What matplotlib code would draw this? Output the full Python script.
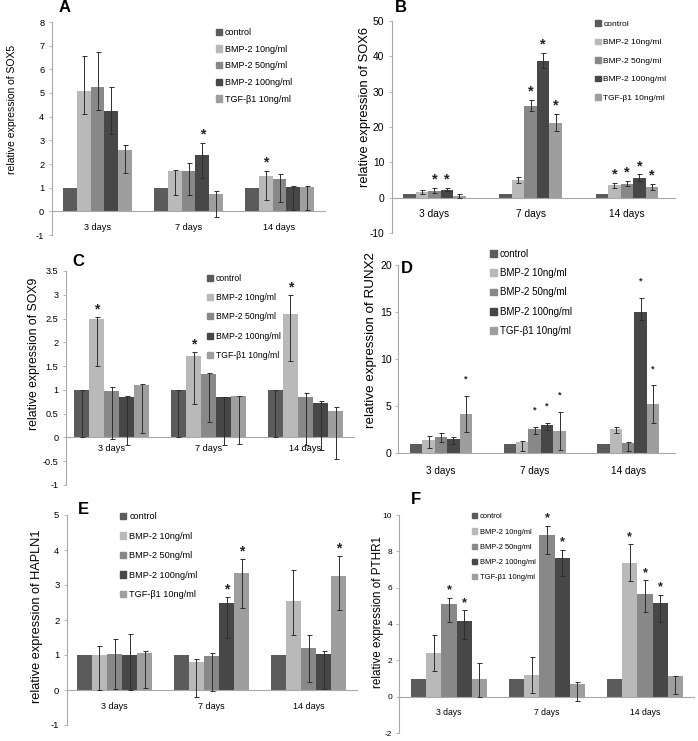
import numpy as np
from matplotlib import pyplot as plt
from matplotlib.patches import Patch

W, H = 698, 741

plt.rcParams['font.family'] = ['Liberation Sans', 'DejaVu Sans']

DAYS = ['3 days', '7 days', '14 days']
GROUPS = ['control', 'BMP-2 10ng/ml', 'BMP-2 50ng/ml', 'BMP-2 100ng/ml', 'TGF-\u03b21 10ng/ml']
COLORS = ['#5b5b5b', '#b9b9b9', '#888888', '#474747', '#9e9e9e']

# rows = groups, columns = days; low/high = ends of the error bars
SOX5_MEAN = [[1, 1, 1], [5.1, 1.7, 1.5], [5.27, 1.7, 1.35], [4.25, 2.4, 1.03], [2.6, 0.72, 1.02]]
SOX5_LOW = [[1, 1, 1], [4.1, 0.7, 0.5], [4.27, 0.7, 0.38], [3.28, 1.4, 0.05], [1.62, -0.25, 0.05]]
SOX5_HIGH = [[1, 1, 1], [6.58, 1.75, 1.7], [6.75, 2.05, 1.58], [5.27, 2.9, 1.07], [2.8, 0.88, 1.05]]
SOX5_STARS = [(1, 3), (2, 1)]

SOX6_MEAN = [[1, 1, 1], [1.6, 5.0, 3.5], [2.0, 26.0, 4.0], [2.3, 38.8, 5.7], [0.5, 21.2, 3.0]]
SOX6_LOW = [[1, 1, 1], [0.9, 4.1, 2.7], [1.3, 24.5, 3.2], [1.8, 36.8, 4.6], [0.0, 19.0, 2.3]]
SOX6_HIGH = [[1, 1, 1], [2.3, 5.8, 4.2], [2.7, 27.6, 4.8], [2.8, 41.0, 6.6], [1.0, 23.7, 3.8]]
SOX6_STARS = [(0, 2), (0, 3), (1, 2), (1, 3), (1, 4), (2, 1), (2, 2), (2, 3), (2, 4)]

SOX9_MEAN = [[1, 1, 1], [2.49, 1.71, 2.6], [0.97, 1.33, 0.84], [0.85, 0.84, 0.73], [1.1, 0.87, 0.55]]
SOX9_LOW = [[0, 0, 0], [1.5, 0.7, 1.6], [-0.03, 0.33, -0.16], [-0.15, -0.16, -0.27], [0.1, -0.13, -0.45]]
SOX9_HIGH = [[1, 1, 1], [2.54, 1.79, 3.0], [1.07, 1.35, 0.94], [0.87, 0.86, 0.76], [1.12, 0.88, 0.63]]
SOX9_STARS = [(0, 1), (1, 1), (2, 1)]

RUNX2_MEAN = [[1, 1, 1], [1.4, 1.2, 2.6], [1.7, 2.6, 1.1], [1.5, 3.0, 15.0], [4.1, 2.3, 5.2]]
RUNX2_LOW = [[1, 1, 1], [0.5, 0.2, 2.1], [1.2, 2.0, 0.2], [1.0, 2.4, 14.2], [2.2, 0.3, 3.2]]
RUNX2_HIGH = [[1, 1, 1], [1.8, 1.3, 2.8], [2.1, 2.8, 1.2], [1.7, 3.2, 16.5], [6.1, 4.4, 7.2]]
RUNX2_STARS = [(0, 4), (1, 2), (1, 3), (1, 4), (2, 3), (2, 4)]

HAPLN1_MEAN = [[1, 1, 1], [1.0, 0.79, 2.55], [1.03, 0.97, 1.2], [1.0, 2.5, 1.03], [1.05, 3.35, 3.27]]
HAPLN1_LOW = [[1, 1, 1], [0.0, -0.2, 1.57], [0.03, -0.03, 0.22], [0.0, 1.5, 0.03], [0.05, 2.35, 2.28]]
HAPLN1_HIGH = [[1, 1, 1], [1.25, 0.88, 3.43], [1.47, 1.05, 1.58], [1.6, 2.65, 1.12], [1.12, 3.75, 3.83]]
HAPLN1_STARS = [(1, 3), (1, 4), (2, 4)]

PTHR1_MEAN = [[1, 1, 1], [2.4, 1.17, 7.35], [5.1, 8.88, 5.67], [4.18, 7.62, 5.13], [1.0, 0.72, 1.12]]
PTHR1_LOW = [[1, 1, 1], [1.4, 0.2, 6.35], [4.1, 7.88, 4.68], [3.18, 6.62, 4.13], [0.0, -0.22, 0.13]]
PTHR1_HIGH = [[1, 1, 1], [3.4, 2.17, 8.38], [5.45, 9.4, 6.4], [4.75, 8.1, 5.62], [1.88, 0.8, 1.15]]
PTHR1_STARS = [(0, 2), (0, 3), (1, 2), (1, 3), (2, 1), (2, 2), (2, 3)]


def px_box(x0, x1, ytop, ybot):
    return [x0 / W, 1 - ybot / H, (x1 - x0) / W, (ybot - ytop) / H]


def fig_xy(x, y):
    return x / W, 1 - y / H


def draw_panel(fig, p):
    ax = fig.add_axes(px_box(*p['box']))
    mean, low, high = np.array(p['mean']), np.array(p['low']), np.array(p['high'])
    x = np.arange(len(DAYS))
    bw = p['bw']
    for i in range(len(GROUPS)):
        xs = x + (i - 2) * bw
        ax.bar(xs, mean[i], bw, color=COLORS[i], zorder=2)
        for j in range(len(DAYS)):
            if low[i, j] == high[i, j]:
                continue
            ax.errorbar(xs[j], mean[i, j], yerr=[[mean[i, j] - low[i, j]], [high[i, j] - mean[i, j]]],
                        fmt='none', ecolor='#2e2e2e', elinewidth=0.7, capsize=1.8, capthick=0.7, zorder=3)
    for j, i in p['stars']:
        ax.annotate('*', (x[j] + (i - 2) * bw, high[i, j]), xytext=(0, p['star_off']),
                    textcoords='offset points', ha='center', va='center',
                    fontsize=p['star_fs'], fontweight='bold', color='#222222')

    ax.set_xlim(*p['xlim'])
    ax.set_ylim(*p['ylim'])
    ax.set_yticks(p['yticks'])
    ax.set_yticklabels([('%g' % t) for t in p['yticks']])
    ax.set_xticks(x)
    ax.set_xticklabels(DAYS)
    for s in ['top', 'right']:
        ax.spines[s].set_visible(False)
    ax.spines['bottom'].set_position(('data', 0))
    for s in ['left', 'bottom']:
        ax.spines[s].set_color('#a8a8a8')
        ax.spines[s].set_linewidth(0.8)
    ax.tick_params(axis='x', length=0, pad=p['xpad'], labelsize=p['xfs'])
    ax.tick_params(axis='y', length=2.5, width=0.6, color='#a8a8a8', pad=p.get('ypad', 3), labelsize=p['yfs'])
    ax.patch.set_visible(False)

    handles = [Patch(color=c) for c in COLORS]
    lx, ly = fig_xy(*p['leg'])
    ax.legend(handles, GROUPS, loc='upper left', bbox_to_anchor=(lx, ly), bbox_transform=fig.transFigure,
              frameon=False, fontsize=p['lfs'], handlelength=0.7, handleheight=0.7, handletextpad=0.3,
              labelspacing=p['lsp'], borderpad=0, borderaxespad=0)

    tx, ty = fig_xy(*p['ylab_pos'])
    fig.text(tx, ty, 'relative expression of ' + p['gene'], rotation=90, ha='center', va='center',
             fontsize=p['ylab_fs'])
    lx, ly = fig_xy(*p['letter_pos'])
    fig.text(lx, ly, p['letter'], ha='left', va='center', fontsize=12, fontweight='bold')
    return ax


PANELS = [
    dict(letter='A', gene='SOX5', mean=SOX5_MEAN, low=SOX5_LOW, high=SOX5_HIGH, stars=SOX5_STARS,
         box=(52, 325, 22, 235), xlim=(-0.5, 2.5), bw=0.153, ylim=(-1, 8), yticks=range(-1, 9),
         xfs=6.6, yfs=6.7, xpad=8.5, star_off=6, star_fs=10, leg=(216, 28), lfs=6.5, lsp=0.85,
         ylab_pos=(12, 109), ylab_fs=7.5, letter_pos=(59, 8)),
    dict(letter='B', gene='SOX6', mean=SOX6_MEAN, low=SOX6_LOW, high=SOX6_HIGH, stars=SOX6_STARS,
         box=(392, 675, 21, 233), xlim=(-0.44, 2.5), bw=0.13, ylim=(-10, 50), yticks=range(-10, 51, 10),
         xfs=7.3, yfs=7.4, xpad=8.5, star_off=6, star_fs=10.5, leg=(595, 20), lfs=6.0, lsp=1.28,
         ylab_pos=(365, 107), ylab_fs=9.3, letter_pos=(395, 8)),
    dict(letter='C', gene='SOX9', mean=SOX9_MEAN, low=SOX9_LOW, high=SOX9_HIGH, stars=SOX9_STARS,
         box=(66, 354, 271, 485), xlim=(-0.47, 2.5), bw=0.155, ylim=(-1, 3.5), yticks=np.arange(-1, 3.51, 0.5),
         xfs=6.6, yfs=6.6, xpad=4.5, star_off=5.5, star_fs=10, leg=(207, 274), lfs=6.2, lsp=1.19,
         ylab_pos=(34, 354), ylab_fs=8.8, letter_pos=(72, 262)),
    dict(letter='D', gene='RUNX2', mean=RUNX2_MEAN, low=RUNX2_LOW, high=RUNX2_HIGH, stars=RUNX2_STARS,
         box=(398, 675, 265, 453), xlim=(-0.46, 2.5), bw=0.133, ylim=(0, 20), yticks=range(0, 21, 5),
         xfs=7.2, yfs=7.6, xpad=9, star_off=12, star_fs=6.5, leg=(490, 249), lfs=7.0, lsp=0.95,
         ylab_pos=(371, 340), ylab_fs=9.6, letter_pos=(401, 268), ypad=2),
    dict(letter='E', gene='HAPLN1', mean=HAPLN1_MEAN, low=HAPLN1_LOW, high=HAPLN1_HIGH, stars=HAPLN1_STARS,
         box=(67, 357, 515, 725), xlim=(-0.49, 2.5), bw=0.155, ylim=(-1, 5), yticks=range(-1, 6),
         xfs=6.5, yfs=6.8, xpad=8.5, star_off=5.5, star_fs=10, leg=(120, 512), lfs=6.6, lsp=1.15,
         ylab_pos=(37, 616), ylab_fs=9.2, letter_pos=(78, 510)),
    dict(letter='F', gene='PTHR1', mean=PTHR1_MEAN, low=PTHR1_LOW, high=PTHR1_HIGH, stars=PTHR1_STARS,
         box=(399, 694, 515, 733), xlim=(-0.51, 2.5), bw=0.155, ylim=(-2, 10), yticks=range(-2, 11, 2),
         xfs=6.2, yfs=6.0, xpad=8.5, star_off=5.5, star_fs=9, leg=(472, 513), lfs=5.4, lsp=1.07,
         ylab_pos=(378, 612), ylab_fs=8.4, letter_pos=(411, 500), ypad=2.5),
]

fig = plt.figure(figsize=(W / 100, H / 100), dpi=100)
for panel in PANELS:
    draw_panel(fig, panel)

fig.savefig('out.png', dpi=100)
